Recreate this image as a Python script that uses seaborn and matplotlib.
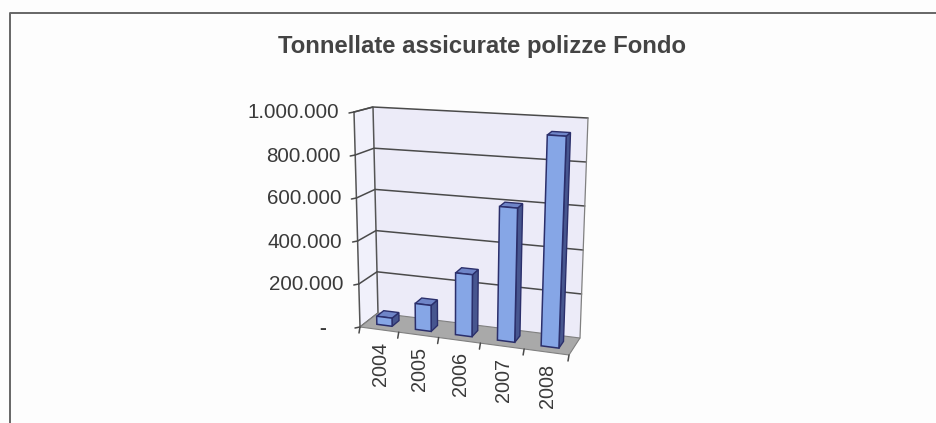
import matplotlib
matplotlib.use('Agg')
import matplotlib.pyplot as plt
from matplotlib.patches import Polygon
from matplotlib.transforms import Transform
import numpy as np
import pandas as pd
import seaborn as sns

anni = ['2004', '2005', '2006', '2007', '2008']
tonnellate = [38000, 120000, 283000, 605000, 943000]
tick_valori = [0, 200000, 400000, 600000, 800000, 1000000]
tick_label = ['-', '200.000', '400.000', '600.000', '800.000', '1.000.000']
titolo = 'Tonnellate assicurate polizze Fondo'

sns.set_theme(style='white')
plt.rcParams['font.family'] = ['Liberation Sans', 'DejaVu Sans']

VMAX = 1000000
# corners of the 3D box in image pixels: [depth][x side][bottom/top]
CORNERS = np.array([
    [[(360, 327), (354, 112)], [(569, 355), (578, 127)]],
    [[(378, 313), (373, 107)], [(580, 338), (588, 118)]],
], dtype=float)


def project(x, v, d):
    # x in categorical units, v in tons, d depth 0-1
    tx = (np.asarray(x, dtype=float) + 0.5) / 5
    tx = tx - 0.025 * np.sin(np.pi * tx)  # columns get wider towards the viewer
    tv = np.asarray(v, dtype=float) / VMAX
    d = np.asarray(d, dtype=float)
    c = CORNERS
    out = []
    for k in range(2):
        front = (c[0, 0, 0, k] * (1 - tx) * (1 - tv) + c[0, 1, 0, k] * tx * (1 - tv)
                 + c[0, 0, 1, k] * (1 - tx) * tv + c[0, 1, 1, k] * tx * tv)
        back = (c[1, 0, 0, k] * (1 - tx) * (1 - tv) + c[1, 1, 0, k] * tx * (1 - tv)
                + c[1, 0, 1, k] * (1 - tx) * tv + c[1, 1, 1, k] * tx * tv)
        out.append(front * (1 - d) + back * d)
    return np.stack(out, axis=-1)


class FrontPlane(Transform):
    input_dims = 2
    output_dims = 2
    is_separable = False

    def __init__(self, plane_d):
        super().__init__()
        self.plane_d = plane_d

    def transform_non_affine(self, values):
        values = np.asarray(values, dtype=float)
        return project(values[:, 0], values[:, 1], np.full(len(values), self.plane_d))


fig = plt.figure(figsize=(9.37, 4.23), dpi=100, facecolor='#fdfdfd')
bg = fig.add_axes([0, 0, 1, 1])
bg.set_xlim(0, 937)
bg.set_ylim(423, 0)
bg.axis('off')

# chart frame
bg.plot([10, 10, 937], [423, 13, 13], color='#666666', lw=1.4)

# walls and floor
x0, x1 = -0.5, 4.5
bg.add_patch(Polygon(project([x0, x1, x1, x0], [0, 0, VMAX, VMAX], [1, 1, 1, 1]), fc='#ecebf8', ec='none'))
bg.add_patch(Polygon(project([x0, x0, x0, x0], [0, VMAX, VMAX, 0], [0, 0, 1, 1]), fc='#f1f1fb', ec='#555555', lw=1.1))
bg.add_patch(Polygon(project([x0, x1, x1, x0], [0, 0, 0, 0], [0, 0, 1, 1]), fc='#a9a9a9', ec='#808080', lw=0.8))

for v, lab in zip(tick_valori, tick_label):
    p = project([x0, x0, x1], [v, v, v], [0, 1, 1])
    if v > 0:
        bg.plot(p[:, 0], p[:, 1], color='#4a4a4a', lw=1.1)
    q = project(x0, v, 0)
    bg.plot([q[0] - 5, q[0]], [q[1] + 1, q[1]], color='#4a4a4a', lw=1.1)
    if v > 0:
        bg.text(q[0] - 15, q[1] + 1, lab, ha='right', va='center', fontsize=14.8, color='#3a3a3a')
    else:
        bg.text(q[0] - 34, q[1] + 1, lab, ha='right', va='center', fontsize=14.8,
                fontweight='bold', color='#3a3a3a')

right = project([x1, x1], [0, VMAX], [1, 1])
bg.plot(right[:, 0], right[:, 1], color='#808080', lw=0.9)

# floor front ticks and year labels
for i in range(6):
    t = project(i - 0.5, 0, 0)
    bg.plot([t[0], t[0] - 1], [t[1], t[1] + 6], color='#4a4a4a', lw=1.1)
for i, a in enumerate(anni):
    t = project(i, 0, 0)
    bg.text(t[0] + 1, t[1] + 12, a, rotation=90, ha='center', va='top', fontsize=14.3, color='#3a3a3a')

bg.text(482, 46, titolo, ha='center', va='center', fontsize=17.2, fontweight='bold', color='#444444')

# bars drawn by seaborn, then moved on to the front plane of each column
ax = fig.add_axes([0, 0, 1, 1])
ax.patch.set_alpha(0)
df = pd.DataFrame({'anno': anni, 'tonnellate': tonnellate})
sns.barplot(data=df, x='anno', y='tonnellate', width=0.4, color='#86a6e6', saturation=1,
            edgecolor='#2b2f6b', linewidth=1.1, ax=ax)
ax.axis('off')

D0, D1 = 0.3, 0.7
for bar in list(ax.patches):
    xa, xb = bar.get_x(), bar.get_x() + bar.get_width()
    h = bar.get_height()
    side = project([xb, xb, xb, xb], [0, h, h, 0], [D0, D0, D1, D1])
    top = project([xa, xb, xb, xa], [h, h, h, h], [D0, D0, D1, D1])
    bg_kw = dict(ec='#2b2f6b', lw=1.0, transform=bg.transData, clip_on=False, zorder=2)
    ax.add_patch(Polygon(side, fc='#47568f', **bg_kw))
    ax.add_patch(Polygon(top, fc='#6f85c8', **bg_kw))
    bar.set_transform(FrontPlane(D0) + bg.transData)
    bar.set_clip_on(False)
    bar.set_zorder(3)

fig.savefig('out.png', dpi=100, facecolor=fig.get_facecolor())
